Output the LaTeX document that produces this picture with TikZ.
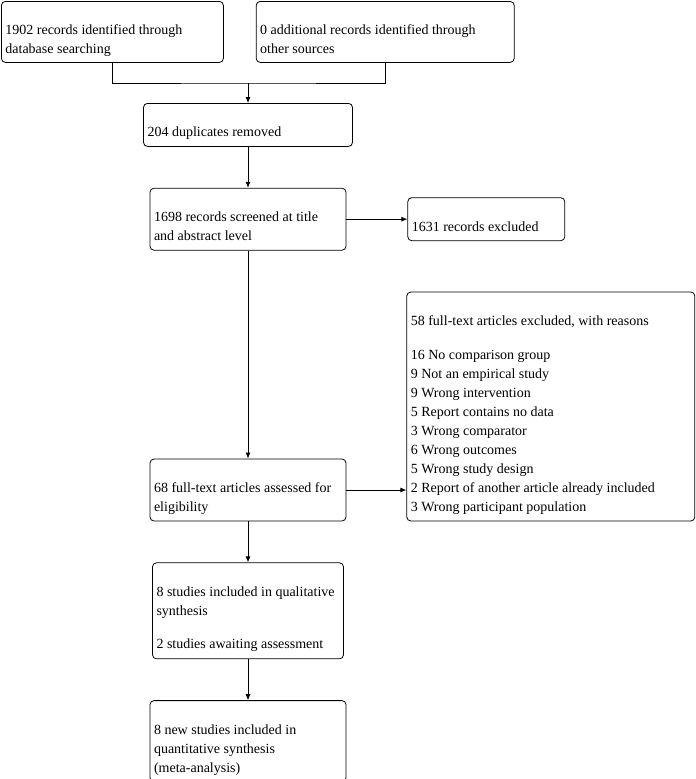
\documentclass[tikz,border=0pt]{standalone}
\usepackage{fontspec}
\setmainfont{Liberation Serif}
\usetikzlibrary{arrows.meta, positioning}
\newcommand{\boxtext}[3]{\parbox[c][#2][t]{#1}{\raggedright\rule{0pt}{33.5pt}#3}}

\begin{document}
\begin{tikzpicture} [
        x = 1pt, y = 1pt,
        box/.style = {draw, rounded corners=4pt, line width=0.8pt, inner xsep=4pt, inner ysep=0pt, font=\fontsize{14pt}{19pt}\selectfont},
        flow/.style = {draw, line width=0.8pt, -{Latex[length=6pt, width=5pt]}},
        merger/.style = {draw, line width=0.8pt}
    ]
    \useasboundingbox (0,0) rectangle (696,-779);

    \node[box, anchor=north west] (db) at (1,-1) {\boxtext{214pt}{61pt}{1902 records identified through\\database searching}};
    \node[box, right=32pt of db] (src) {\boxtext{250pt}{61pt}{0 additional records identified through\\other sources}};
    \coordinate (merge) at (248,-83);
    \node[box, below=20pt of merge] (dup) {\boxtext{201pt}{43pt}{204 duplicates removed}};
    \node[box, below=41pt of dup] (screen) {\boxtext{188pt}{62pt}{1698 records screened at title\\and abstract level}};
    \node[box, right=61pt of screen] (excl) {\boxtext{149pt}{43pt}{1631 records excluded}};
    \node[box, below=208pt of screen] (full) {\boxtext{188pt}{62pt}{68 full-text articles assessed for\\eligibility}};
    \node[box, right=60pt of full.south east, anchor=south west] (reasons) {\boxtext{280pt}{229pt}{58 full-text articles excluded, with reasons\\[14.5pt]
        16 No comparison group\\
        9 Not an empirical study\\
        9 Wrong intervention\\
        5 Report contains no data\\
        3 Wrong comparator\\
        6 Wrong outcomes\\
        5 Wrong study design\\
        2 Report of another article already included\\
        3 Wrong participant population}};
    \node[box, below=41pt of full] (incl) {\boxtext{183pt}{96pt}{8 studies included in qualitative\\synthesis\\[14.5pt]2 studies awaiting assessment}};
    \node[box, below=41pt of incl] (meta) {\boxtext{188pt}{81pt}{8 new studies included in\\quantitative synthesis\\(meta-analysis)}};

    \path[merger] (db.south) |- (merge) -| (src.south);
    \path[flow] (merge) -- (dup);
    \path[flow] (dup) -- (screen);
    \path[flow] (screen) -- (excl);
    \path[flow] (screen) -- (full);
    \path[flow] (full) -- (full -| reasons.west);
    \path[flow] (full) -- (incl);
    \path[flow] (incl) -- (meta);

\end{tikzpicture}
\end{document}
